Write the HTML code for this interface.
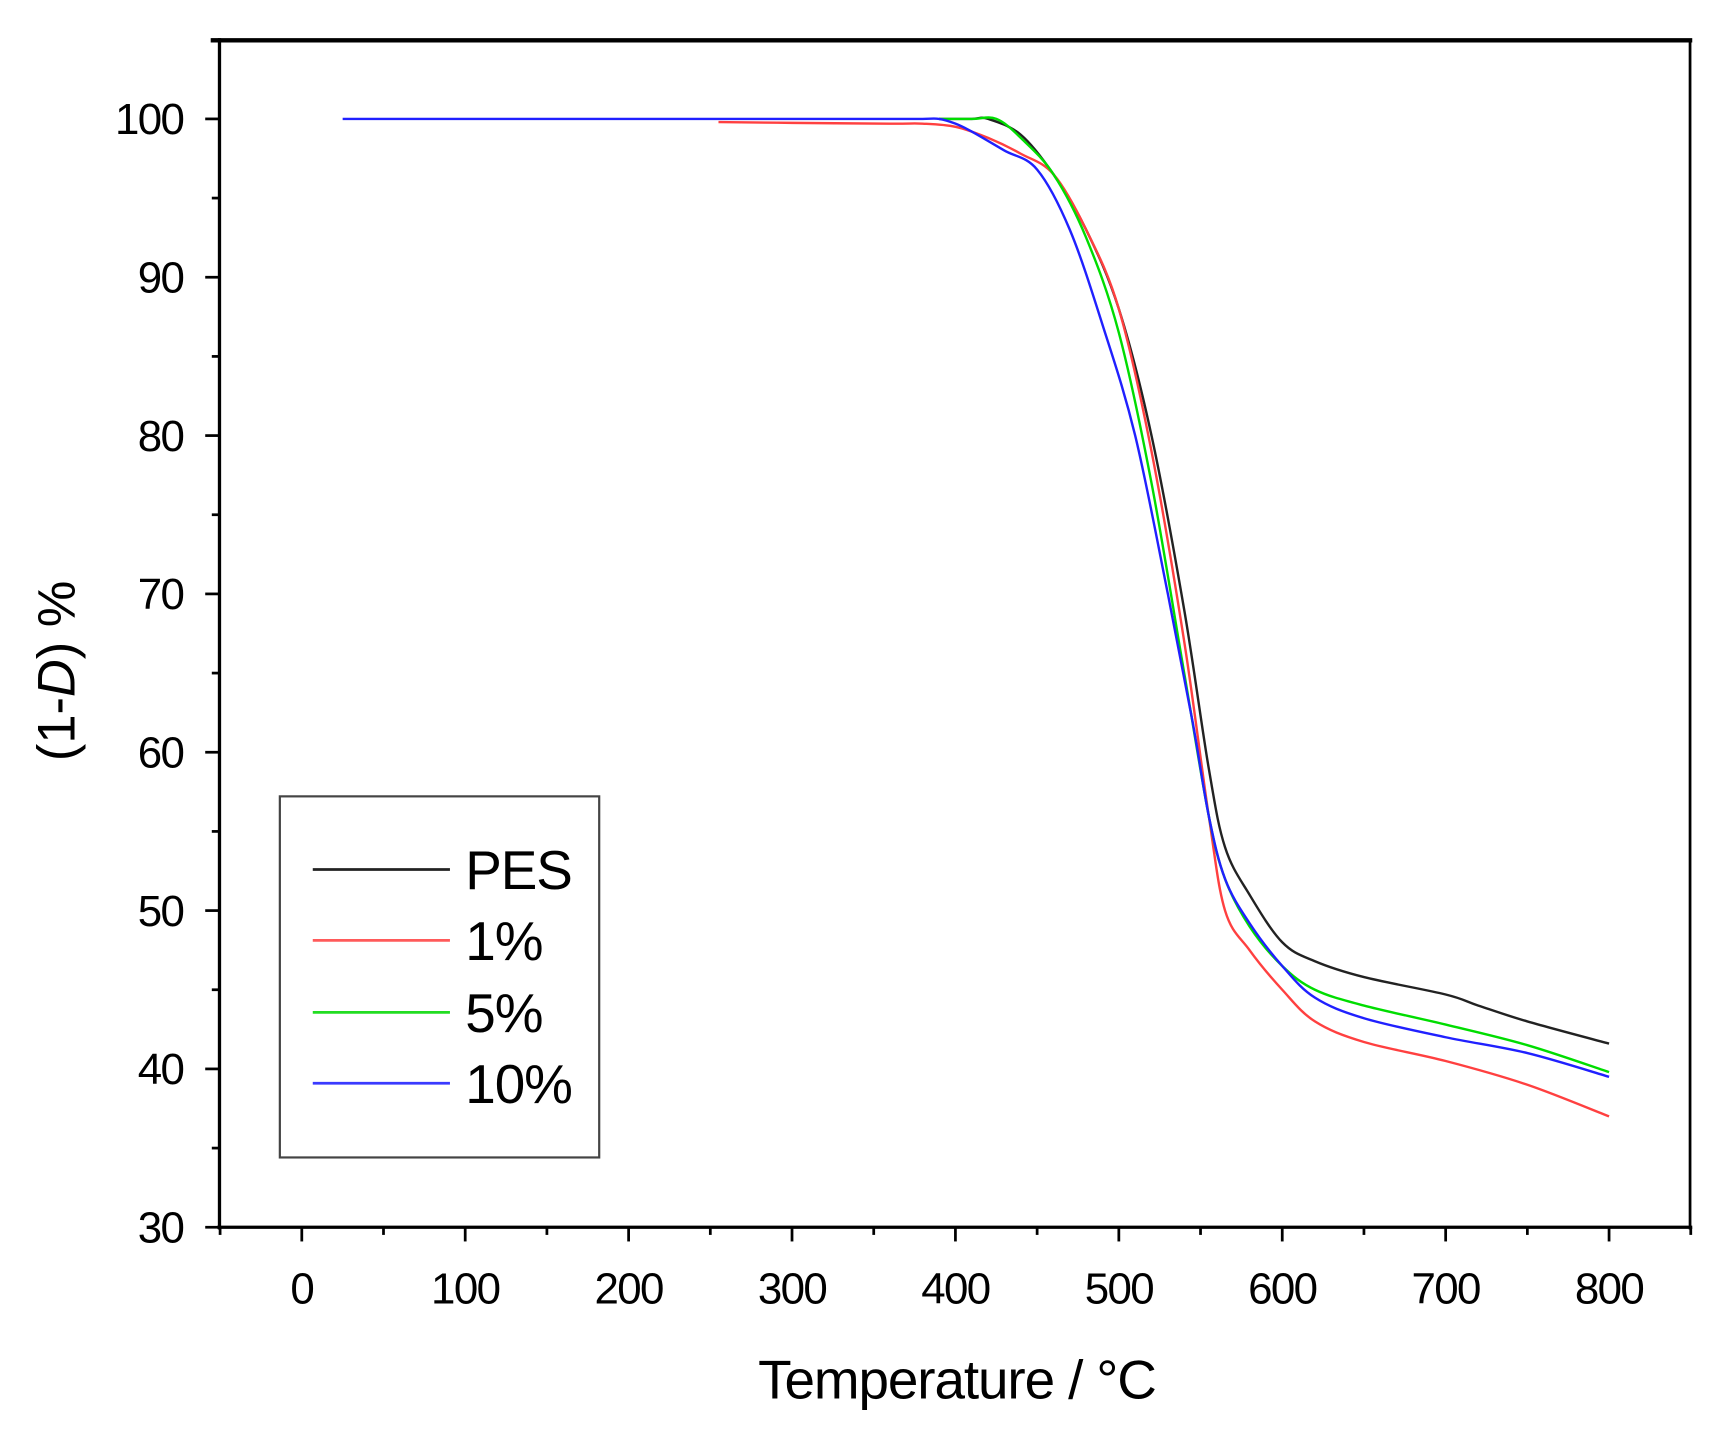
<!DOCTYPE html>
<html><head><style>html,body{margin:0;padding:0;background:#fff}svg{display:block}</style></head>
<body>
<svg id="s" width="1712" height="1440" viewBox="0 0 1560 1320" preserveAspectRatio="none" xmlns="http://www.w3.org/2000/svg" font-family="Liberation Sans, Arial, sans-serif">
<rect width="1560" height="1320" fill="#fff"/>
<g id="ticks" stroke="#000" stroke-width="2.5"></g>
<g id="labels" font-size="40" fill="#000" letter-spacing="-1.5"></g>
<g id="curves" fill="none" stroke-width="2.2"></g>
<line x1="192" y1="37" x2="1542" y2="37" stroke="#000" stroke-width="4"/>
<line x1="200" y1="35" x2="200" y2="1127" stroke="#000" stroke-width="3"/>
<line x1="1540" y1="37" x2="1540" y2="1127" stroke="#000" stroke-width="2.5"/>
<line x1="198" y1="1125" x2="1542" y2="1125" stroke="#000" stroke-width="3"/>
<rect x="255" y="730" width="291" height="331" fill="#fff" stroke="#444" stroke-width="2"/>
<g stroke-width="2.5">
<line x1="285" y1="797" x2="410" y2="797" stroke="#222"/>
<line x1="285" y1="862" x2="410" y2="862" stroke="#ff5a5a"/>
<line x1="285" y1="928" x2="410" y2="928" stroke="#22dd22"/>
<line x1="285" y1="993" x2="410" y2="993" stroke="#3a3aff"/>
</g>
<g font-size="50" fill="#000" letter-spacing="-1">
<text x="424" y="815">PES</text>
<text x="424" y="880">1%</text>
<text x="424" y="946">5%</text>
<text x="424" y="1011">10%</text>
</g>
<text x="872" y="1282" font-size="50" text-anchor="middle" letter-spacing="-1">Temperature / °C</text>
<text transform="translate(68,615) rotate(-90)" font-size="48" text-anchor="middle">(1-<tspan font-style="italic">D</tspan>) %</text>
</svg>
<script>
var X=t=>275+1.489*t, Y=v=>109+(100-v)*14.514;
var ns="http://www.w3.org/2000/svg";
function el(p,tag,a,txt){var e=document.createElementNS(ns,tag);for(var k in a)e.setAttribute(k,a[k]);if(txt)e.textContent=txt;document.getElementById(p).appendChild(e);}
for(var t=-50;t<=850;t+=50){var maj=t%100==0;el("ticks","line",{x1:X(t),x2:X(t),y1:1125,y2:maj?1138:1132});if(maj)el("labels","text",{x:X(t),y:1195,"text-anchor":"middle"},String(t));}
for(var v=30;v<=105;v+=5){var maj=v%10==0;el("ticks","line",{x1:200,x2:maj?187:193,y1:Y(v),y2:Y(v)});if(maj)el("labels","text",{x:167,y:Y(v)+14,"text-anchor":"end"},String(v));}
var D={
"#222":[[390,100],[410,100],[420,100],[440,99],[460,96.5],[480,93],[500,88],[520,80],[540,69],[555,59],[565,54],[580,51],[600,48],[620,46.8],[650,45.8],[700,44.7],[720,44],[750,43],[800,41.6]],
"#ff4040":[[255,99.8],[300,99.75],[360,99.7],[380,99.7],[400,99.5],[420,98.8],[440,97.8],[460,96.5],[480,93],[500,88],[520,79],[540,67],[555,56],[565,50],[580,47.5],[600,45],[620,43],[650,41.7],[700,40.5],[750,39],[800,37]],
"#00dd00":[[390,100],[410,100],[425,100],[440,98.8],[460,96.5],[480,92.5],[500,86.5],[520,77],[540,65],[555,56],[565,52],[580,49],[600,46.5],[620,45],[650,44],[700,42.8],[750,41.5],[800,39.8]],
"#2020ff":[[25,100],[200,100],[360,100],[380,100],[390,100],[400,99.7],[410,99.2],[430,98],[450,96.8],[470,93],[490,87],[510,80],[530,70],[545,62],[555,56],[565,52],[580,49.2],[600,46.5],[620,44.5],[650,43.2],[700,42],[750,41],[800,39.5]]};
for(var c in D){var P=D[c].map(q=>[X(q[0]),Y(q[1])]);var d="M"+P[0][0]+","+P[0][1];
for(var i=0;i<P.length-1;i++){var p0=P[Math.max(0,i-1)],p1=P[i],p2=P[i+1],p3=P[Math.min(P.length-1,i+2)];
var c1=[p1[0]+(p2[0]-p0[0])/6,p1[1]+(p2[1]-p0[1])/6],c2=[p2[0]-(p3[0]-p1[0])/6,p2[1]-(p3[1]-p1[1])/6];
d+=" C"+c1.join(",")+" "+c2.join(",")+" "+p2.join(",");}
el("curves","path",{d:d,stroke:c,"stroke-linejoin":"round"});}
</script>
</body></html>
